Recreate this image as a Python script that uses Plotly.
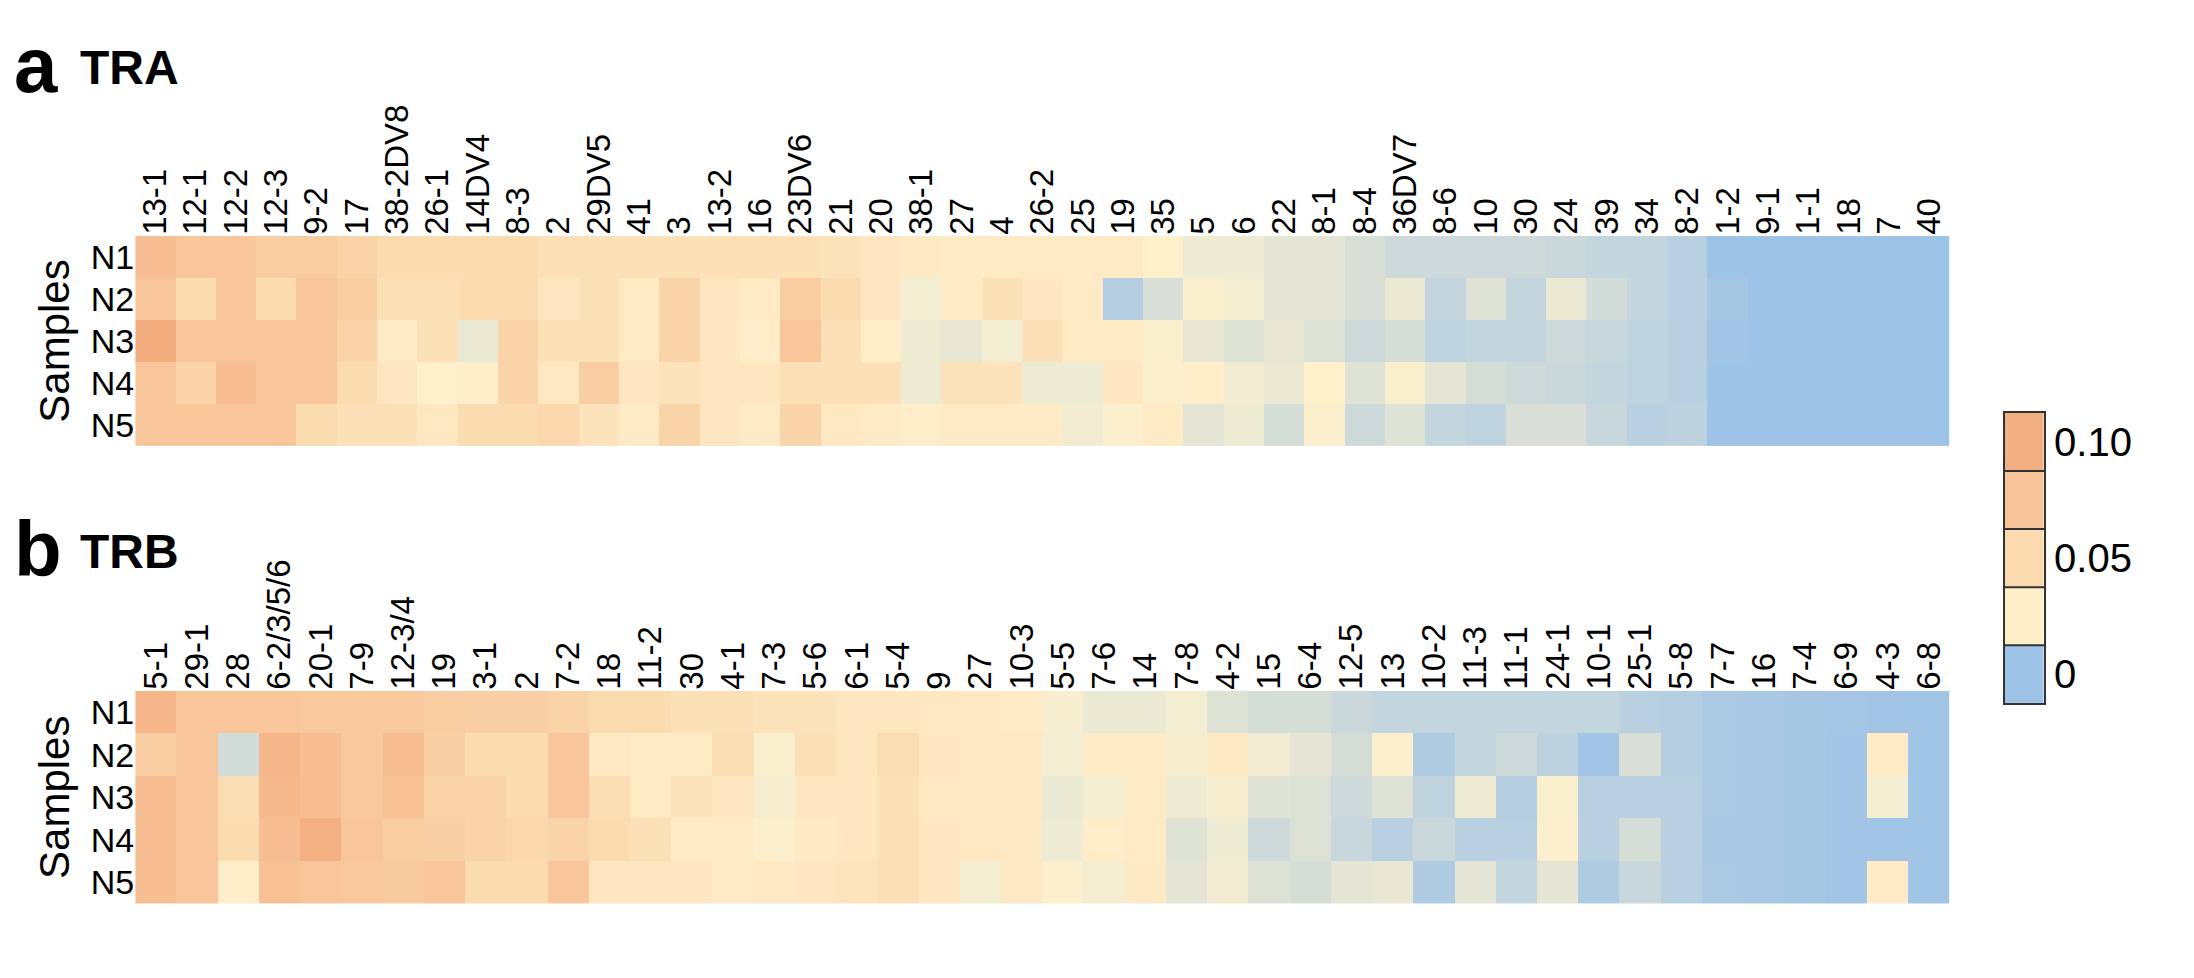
import plotly.graph_objects as go
import numpy as np

samples = ["N1", "N2", "N3", "N4", "N5"]

tra_genes = ["13-1", "12-1", "12-2", "12-3", "9-2", "17", "38-2DV8", "26-1", "14DV4", "8-3",
             "2", "29DV5", "41", "3", "13-2", "16", "23DV6", "21", "20", "38-1",
             "27", "4", "26-2", "25", "19", "35", "5", "6", "22", "8-1",
             "8-4", "36DV7", "8-6", "10", "30", "24", "39", "34", "8-2", "1-2",
             "9-1", "1-1", "18", "7", "40"]

trb_genes = ["5-1", "29-1", "28", "6-2/3/5/6", "20-1", "7-9", "12-3/4", "19", "3-1", "2",
             "7-2", "18", "11-2", "30", "4-1", "7-3", "5-6", "6-1", "5-4", "9",
             "27", "10-3", "5-5", "7-6", "14", "7-8", "4-2", "15", "6-4", "12-5",
             "13", "10-2", "11-3", "11-1", "24-1", "10-1", "25-1", "5-8", "7-7", "16",
             "7-4", "6-9", "4-3", "6-8"]

# usage frequency in percent
tra_n1 = [9, 8.5, 8.5, 8, 8, 7.5, 7, 7, 7, 7, 6.5, 6.5, 6.5, 6.5, 6.5, 6.5, 6.5, 6.3, 6, 5.7,
          5.5, 5.5, 5.5, 5.5, 5.5, 5, 4, 4, 3.5, 3.5, 3, 2.5, 2.5, 2.5, 2.5, 2.3, 2, 2, 1.5,
          0, 0, 0, 0, 0, 0]
tra_n2 = [8.5, 7, 8.5, 7, 8.5, 8, 6.5, 6.5, 7, 7, 6, 6.5, 5.5, 7.5, 6, 5.5, 8, 7, 6, 4.3,
          5.5, 6.5, 6, 5.5, 1.3, 3, 4.7, 4.3, 3.5, 3.5, 3, 3.8, 2, 3.3, 2, 3.8, 2.7, 2, 1.5,
          0.5, 0, 0, 0, 0, 0]
tra_n3 = [10, 8.5, 8.5, 8.5, 8.5, 7.5, 5.5, 6.5, 3.8, 7.5, 6.5, 6.5, 5.5, 7.5, 6, 5.3, 8.5, 6.5, 5.3, 4,
          3.7, 4.3, 6.5, 5.5, 5.5, 4.7, 3.7, 3.3, 3.7, 3.2, 2.5, 2.8, 1.8, 2, 2, 2.5, 2.2, 1.8, 1.5,
          0.3, 0, 0, 0, 0, 0]
tra_n4 = [8.5, 7.5, 9, 8.5, 8.5, 7, 6, 5, 5.2, 7.5, 5.8, 8, 6, 6.3, 6, 6, 6.5, 6.5, 6.5, 4,
          6.3, 6.3, 4, 4, 6, 4.8, 5.3, 4.2, 3.8, 5, 3.3, 4.7, 3.5, 2.8, 2.5, 2.3, 2, 1.8, 1.5,
          0, 0, 0, 0, 0, 0]
tra_n5 = [8.5, 8.5, 8.5, 8.5, 7, 6.5, 6.5, 5.8, 7, 7, 7.3, 6.3, 5.5, 7.5, 6, 5.5, 7.5, 5.8, 5.5, 5.3,
          5.5, 5.5, 5.5, 4.2, 4.8, 5.5, 3.5, 4, 2.8, 4.8, 2.5, 3.3, 2, 1.8, 3, 3, 2.2, 1.5, 1.7,
          0, 0, 0, 0, 0, 0]

trb_n1 = [9.5, 8.5, 8.5, 8.5, 8.3, 8.3, 8.3, 8, 7.8, 7.8, 7.5, 7, 7, 6.5, 6.5, 6.3, 6.3, 6, 6, 5.8,
          5.7, 5.5, 4.5, 3.8, 3.8, 4.3, 3.3, 2.8, 2.8, 2.3, 2, 2, 2, 2, 2, 2, 1.5, 1.3, 0.8, 0.6,
          0.5, 0.4, 0.3, 0.2]
trb_n2 = [8, 8.5, 2.7, 9.5, 9, 8.3, 9, 7.8, 7, 7, 8.5, 5.8, 5.5, 5.5, 6.7, 4.7, 6.5, 6, 6.8, 6,
          5.7, 5.8, 4.3, 5.5, 5.5, 4.5, 5.7, 4.2, 3.5, 2.8, 4.8, 1, 2, 2.5, 1.7, 0.3, 3, 1.3, 0.8, 0.6,
          0.5, 0.3, 5.5, 0.2]
trb_n3 = [9, 8.5, 6.8, 9.3, 9, 8.3, 8.8, 7.5, 7.5, 7, 8.5, 6.7, 5.5, 6.3, 6, 4.5, 6, 6, 6.5, 5.8,
          5.7, 5.8, 3.8, 4.3, 5.5, 4, 4.5, 3.3, 3.2, 2.5, 3.3, 1.8, 4, 1.3, 4.7, 1.5, 1.5, 1.5, 0.8, 0.6,
          0.5, 0.3, 4.3, 0.2]
trb_n4 = [9, 8.5, 7, 9, 9.8, 8.5, 8, 7.8, 7.5, 7.3, 7.5, 7, 6.5, 5.5, 5.5, 4.8, 5.7, 6, 6.5, 6,
          5.8, 5.7, 4, 5.3, 5.5, 3.3, 4, 2.5, 3.2, 2.2, 1.5, 2.3, 1.5, 1.5, 4.8, 1.5, 2.8, 1.5, 0.6, 0.6,
          0.5, 0.3, 0.3, 0.2]
trb_n5 = [9, 8.5, 5.3, 8.8, 8.5, 8.3, 8.2, 8.5, 7, 7, 8.5, 6, 6, 6, 5.5, 5.7, 6, 6.2, 6.5, 6,
          4.3, 5.7, 4.8, 4.3, 5.7, 3.5, 4.2, 3.2, 2.8, 3.5, 3.7, 1, 3.5, 2, 3.5, 1, 2.2, 1.5, 0.8, 0.6,
          0.5, 0.3, 5.5, 0.2]

legend_vals = [0, 0.025, 0.05, 0.075, 0.10]
legend_ticks = ["0", "0.05", "0.10"]

tra = np.array([tra_n1, tra_n2, tra_n3, tra_n4, tra_n5]) / 100
trb = np.array([trb_n1, trb_n2, trb_n3, trb_n4, trb_n5]) / 100

scale = [
    [0.00, "#9DC3E6"], [0.10, "#AFCBE2"], [0.20, "#C3D5DD"], [0.30, "#D9DFD6"],
    [0.40, "#EEEBD3"], [0.50, "#FEF0CB"], [0.60, "#FDE6C0"], [0.70, "#FBDBB0"],
    [0.80, "#F9CDA2"], [0.90, "#F6BE92"], [1.00, "#F2AC7E"],
]
legend_scale = [
    [0.0, "#9DC3E6"], [0.125, "#9DC3E6"], [0.125, "#FEEFC9"], [0.375, "#FEEFC9"],
    [0.375, "#FAD9AF"], [0.625, "#FAD9AF"], [0.625, "#F7C398"], [0.875, "#F7C398"],
    [0.875, "#F2AF81"], [1.0, "#F2AF81"],
]

font = "Arial, Liberation Sans, sans-serif"

fig = go.Figure()
fig.add_trace(go.Heatmap(z=tra, x=tra_genes, y=samples, colorscale=scale, zmin=0, zmax=0.10,
                         showscale=False, xaxis="x", yaxis="y"))
fig.add_trace(go.Heatmap(z=trb, x=trb_genes, y=samples, colorscale=scale, zmin=0, zmax=0.10,
                         showscale=False, xaxis="x2", yaxis="y2"))
fig.add_trace(go.Heatmap(z=[[v] for v in legend_vals], x=[0], y=list(range(5)),
                         colorscale=legend_scale, zmin=0, zmax=0.10, showscale=False,
                         xaxis="x3", yaxis="y3", hoverinfo="skip"))

xcommon = dict(side="top", tickangle=-90, tickfont=dict(size=33, color="black", family=font),
               showgrid=False, zeroline=False, ticks="", ticklen=0,
               tickmode="linear", dtick=1)
ycommon = dict(autorange="reversed", tickfont=dict(size=34, color="black", family=font),
               showgrid=False, zeroline=False, ticks="",
               tickmode="array", tickvals=samples, ticktext=samples,
               title=dict(text="Samples", font=dict(size=42, color="black", family=font), standoff=8))

fig.update_layout(
    width=2194, height=978,
    margin=dict(l=0, r=0, t=0, b=0),
    paper_bgcolor="white", plot_bgcolor="white",
    font=dict(family=font, color="black"),
    xaxis=dict(domain=[0.058, 0.885], anchor="y", **xcommon),
    yaxis=dict(domain=[0.552, 0.767], anchor="x", **ycommon),
    xaxis2=dict(domain=[0.058, 0.885], anchor="y2", **xcommon),
    yaxis2=dict(domain=[0.084, 0.302], anchor="x2", **ycommon),
    xaxis3=dict(domain=[0.910, 0.928], anchor="y3", showticklabels=False, showgrid=False,
                zeroline=False, showline=True, mirror=True, linecolor="#333", linewidth=2),
    yaxis3=dict(domain=[0.289, 0.586], anchor="x3", side="right", range=[-0.5, 4.5],
                tickvals=[0, 2, 4], ticktext=legend_ticks, showgrid=False, zeroline=False,
                showline=True, mirror=True, linecolor="#333", linewidth=2, ticks="",
                tickfont=dict(size=40, color="black", family=font)),
)

for yb in [0.5, 1.5, 2.5, 3.5]:
    fig.add_shape(type="line", xref="x3 domain", yref="y3", x0=0, x1=1, y0=yb, y1=yb,
                  line=dict(color="#333", width=2))

labels = [("a", 0.002, 0.895, 78), ("TRA", 0.032, 0.91, 48), ("b", 0.002, 0.4, 78), ("TRB", 0.032, 0.415, 48)]
for txt, x, y, size in labels:
    fig.add_annotation(text=f"<b>{txt}</b>", x=x, y=y, xref="paper", yref="paper",
                       xanchor="left", yanchor="bottom", showarrow=False,
                       font=dict(size=size, color="black", family=font))

fig.write_html("out.html")
